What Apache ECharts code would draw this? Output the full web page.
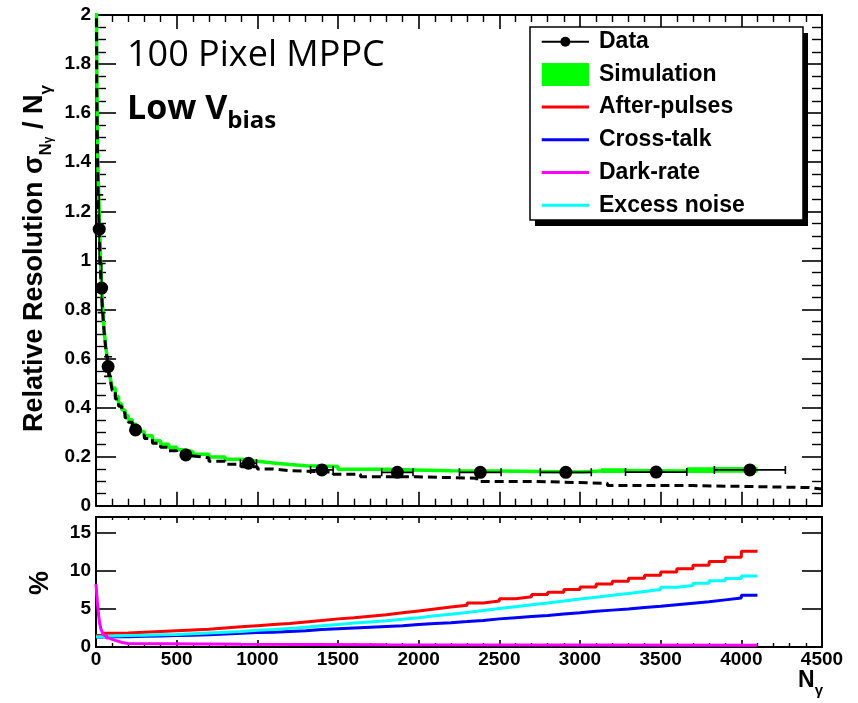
<!DOCTYPE html>
<html>
<head>
<meta charset="utf-8">
<script src="https://cdn.jsdelivr.net/npm/echarts@6/dist/echarts.min.js"></script>
<style>
  html, body { margin: 0; padding: 0; background: #fff; }
  #chart { width: 858px; height: 703px; }
</style>
</head>
<body>
<div id="chart"></div>
<script>
// ---- Measured points: photon count, relative resolution and their errors ----
const dataN      = [20, 35, 75, 245, 557, 945, 1400, 1868, 2382, 2912, 3472, 4053];
const dataRes    = [1.127, 0.887, 0.567, 0.309, 0.207, 0.173, 0.146, 0.136, 0.136, 0.136, 0.137, 0.146];
const dataErrN   = [1, 2, 4, 13, 30, 50, 70, 97, 129, 158, 190, 220];
const dataErrRes = [0.14, 0.1, 0.04, 0.015, 0.008, 0.006, 0.005, 0.005, 0.005, 0.005, 0.005, 0.005];

// ---- Simulation histogram (bin edges, bin contents, band half-width) ----
const simEdges = [0, 5, 10, 15, 20, 25, 30, 40, 50, 60, 70, 80, 90, 100, 120, 140, 160, 180, 200,
  225, 250, 275, 300, 350, 400, 450, 500, 550, 600, 700, 800, 900, 1000, 1100, 1200, 1300, 1500,
  1780, 1980, 2200, 2500, 2750, 3000, 3130, 3270, 3660, 3840, 4100];
const simRes = [2.5, 1.75, 1.45, 1.3, 1.2, 1.08, 0.96, 0.82, 0.72, 0.65, 0.6, 0.55, 0.515, 0.48,
  0.445, 0.415, 0.39, 0.368, 0.35, 0.332, 0.316, 0.302, 0.285, 0.265, 0.25, 0.238, 0.228, 0.22,
  0.21, 0.198, 0.189, 0.181, 0.174, 0.168, 0.163, 0.16, 0.149, 0.146, 0.142, 0.141, 0.139, 0.137,
  0.141, 0.143, 0.141, 0.145, 0.146];
const simErr = [0, 0, 0, 0, 0, 0, 0, 0, 0, 0, 0, 0, 0, 0, 0, 0, 0, 0, 0, 0, 0, 0, 0, 0, 0, 0, 0, 0,
  0, 0, 0, 0, 0, 0, 0, 0, 0, 0, 0, 0, 0, 0, 0, 0.01, 0, 0.012, 0.012];

// ---- Poisson-only expectation (dashed histogram) ----
const poisEdges = [0, 5, 10, 15, 20, 25, 30, 40, 50, 60, 70, 80, 90, 100, 120, 140, 160, 180, 200,
  225, 250, 275, 300, 350, 400, 450, 500, 550, 600, 700, 800, 900, 1000, 1100, 1200, 1470, 1640,
  1980, 2360, 2720, 3170, 3700, 4420, 4500];
const poisRes = [2.5, 1.7, 1.4, 1.22, 1.12, 1.02, 0.92, 0.8, 0.71, 0.645, 0.59, 0.545, 0.51, 0.47,
  0.435, 0.405, 0.38, 0.358, 0.34, 0.32, 0.302, 0.288, 0.274, 0.255, 0.238, 0.224, 0.212, 0.203,
  0.195, 0.181, 0.169, 0.159, 0.15, 0.143, 0.137, 0.128, 0.118, 0.112, 0.099, 0.091, 0.082, 0.074,
  0.068];

// ---- Noise contributions in % (lower panel) ----
const noiseEdges = [0, 50, 100, 200, 300, 400, 500, 600, 700, 800, 900, 1000, 1100, 1200, 1300,
  1400, 1500, 1600, 1700, 1800, 1900, 2000, 2100, 2200, 2300, 2400, 2500, 2600, 2700, 2800, 2900,
  3000, 3100, 3200, 3300, 3400, 3500, 3600, 3700, 3800, 3900, 4000, 4100];
const afterPulses = [1.5, 1.8, 1.85, 1.95, 2.05, 2.15, 2.25, 2.35, 2.5, 2.65, 2.8, 2.95, 3.1, 3.3,
  3.5, 3.7, 3.85, 4.05, 4.25, 4.5, 4.75, 5.0, 5.25, 5.5, 5.8, 6.05, 6.35, 6.6, 6.9, 7.2, 7.55, 7.9,
  8.3, 8.65, 9.05, 9.45, 9.85, 10.3, 10.75, 11.25, 11.8, 12.6];
const crossTalk = [1.3, 1.35, 1.35, 1.4, 1.45, 1.5, 1.55, 1.6, 1.7, 1.8, 1.9, 1.95, 2.05, 2.15, 2.3,
  2.4, 2.5, 2.6, 2.7, 2.8, 2.95, 3.1, 3.2, 3.35, 3.5, 3.7, 3.85, 4.0, 4.15, 4.35, 4.5, 4.7, 4.85,
  5.0, 5.2, 5.35, 5.55, 5.75, 5.95, 6.2, 6.45, 6.8];
const excessNoise = [1.35, 1.45, 1.5, 1.55, 1.6, 1.65, 1.75, 1.85, 1.95, 2.05, 2.2, 2.3, 2.45, 2.6,
  2.8, 2.95, 3.15, 3.3, 3.45, 3.65, 3.85, 4.1, 4.3, 4.55, 4.8, 5.05, 5.3, 5.55, 5.8, 6.05, 6.3,
  6.55, 6.8, 7.05, 7.3, 7.55, 7.85, 8.1, 8.4, 8.7, 9.0, 9.35];
const darkEdges = [0, 8, 15, 22, 30, 40, 50, 65, 80, 100, 130, 160, 200, 900, 1800, 4100];
const darkRate = [8.3, 6.0, 4.4, 3.2, 2.4, 1.9, 1.5, 1.2, 1.0, 0.8, 0.6, 0.45, 0.35, 0.28, 0.22];

// ---- Axis ranges and tick labels ----
const xMax = 4500, xStep = 500;
const resMax = 2, resStep = 0.2;
const pctMax = 17.1, pctStep = 5;

const seriesNames = ['Data', 'Simulation', 'After-pulses', 'Cross-talk', 'Dark-rate', 'Excess noise'];

// Turn bin edges + contents into points for a step ('end') line
function histPoints(edges, values) {
  const n = Math.min(values.length, edges.length - 1);
  const pts = [];
  for (let i = 0; i < n; i++) pts.push([edges[i], values[i]]);
  pts.push([edges[n], values[n - 1]]);
  return pts;
}

const BLACK = '#000';
const tickFont = { fontFamily: 'Liberation Sans', fontWeight: 'bold', fontSize: 19, color: BLACK };
const colors = {
  sim: '#00ff00', after: '#ff0000', cross: '#0000ff', dark: '#ff00ff', excess: '#00ffff'
};

function xAxisDef(grid, pos, showLabel, major, minor) {
  return {
    type: 'value', gridIndex: grid, position: pos, min: 0, max: xMax, interval: xStep,
    axisLine: { show: true, onZero: false, lineStyle: { color: BLACK, width: 2 } },
    axisTick: { show: true, inside: true, length: major, lineStyle: { color: BLACK, width: 1.6 } },
    minorTick: { show: true, splitNumber: 5, length: minor, lineStyle: { color: BLACK, width: 1.4 } },
    splitLine: { show: false }, minorSplitLine: { show: false },
    axisLabel: Object.assign({ show: showLabel, margin: 3, formatter: v => String(v) }, tickFont)
  };
}
function yAxisDef(grid, pos, showLabel, max, step, major, minor, minorSplit) {
  return {
    type: 'value', gridIndex: grid, position: pos, min: 0, max: max, interval: step,
    axisLine: { show: true, onZero: false, lineStyle: { color: BLACK, width: 2 } },
    axisTick: { show: true, inside: true, length: major, lineStyle: { color: BLACK, width: 1.6 } },
    minorTick: { show: minorSplit > 0, splitNumber: minorSplit || 1, length: minor,
      lineStyle: { color: BLACK, width: 1.4 } },
    splitLine: { show: false }, minorSplitLine: { show: false },
    axisLabel: Object.assign({ show: showLabel, margin: 5, showMaxLabel: max === resMax,
      formatter: v => String(+(+v).toFixed(3)) }, tickFont)
  };
}

// Error bars for the measured points
function renderErrors(params, api) {
  const x = api.value(0), y = api.value(1), ex = api.value(2), ey = api.value(3);
  const st = { stroke: BLACK, lineWidth: 1.6 };
  const cap = 4;
  const kids = [];
  const l = api.coord([x - ex, y]), r = api.coord([x + ex, y]);
  if (r[0] - l[0] > 14) {
    kids.push({ type: 'line', shape: { x1: l[0], y1: l[1], x2: r[0], y2: r[1] }, style: st });
    kids.push({ type: 'line', shape: { x1: l[0], y1: l[1] - cap, x2: l[0], y2: l[1] + cap }, style: st });
    kids.push({ type: 'line', shape: { x1: r[0], y1: r[1] - cap, x2: r[0], y2: r[1] + cap }, style: st });
  }
  const t = api.coord([x, y + ey]), b = api.coord([x, y - ey]);
  if (b[1] - t[1] > 14) {
    kids.push({ type: 'line', shape: { x1: t[0], y1: t[1], x2: b[0], y2: b[1] }, style: st });
    kids.push({ type: 'line', shape: { x1: t[0] - cap, y1: t[1], x2: t[0] + cap, y2: t[1] }, style: st });
    kids.push({ type: 'line', shape: { x1: b[0] - cap, y1: b[1], x2: b[0] + cap, y2: b[1] }, style: st });
  }
  return { type: 'group', children: kids };
}

// Simulation uncertainty band, one rectangle per bin
function renderBand(params, api) {
  const p0 = api.coord([api.value(0), api.value(3)]);
  const p1 = api.coord([api.value(1), api.value(2)]);
  return { type: 'rect', shape: { x: p0[0], y: p0[1], width: p1[0] - p0[0], height: p1[1] - p0[1] },
    style: { fill: colors.sim } };
}
const bandData = [];
simErr.forEach((e, i) => {
  if (e > 0) bandData.push([simEdges[i], simEdges[i + 1], simRes[i] - e, simRes[i] + e]);
});

// ---- Legend (drawn as graphics) ----
const legendBox = { x: 530, y: 27, w: 273, h: 193 };
const legendRow0 = 41.7, legendRowStep = 32.7, iconX0 = 541.7, iconX1 = 589, textX = 599;
const legendColors = [BLACK, colors.sim, colors.after, colors.cross, colors.dark, colors.excess];
const legendEls = [
  { type: 'rect', z: 100, shape: { x: legendBox.x + 5, y: legendBox.y + 6, width: legendBox.w, height: legendBox.h },
    style: { fill: BLACK } },
  { type: 'rect', z: 101, shape: { x: legendBox.x, y: legendBox.y, width: legendBox.w, height: legendBox.h },
    style: { fill: '#fff', stroke: BLACK, lineWidth: 1.5 } }
];
seriesNames.forEach((name, i) => {
  const cy = legendRow0 + legendRowStep * i;
  if (i === 1) {
    legendEls.push({ type: 'rect', z: 102, shape: { x: iconX0, y: cy - 11.5, width: iconX1 - iconX0, height: 23 },
      style: { fill: legendColors[i] } });
  } else {
    legendEls.push({ type: 'line', z: 102, shape: { x1: iconX0, y1: cy, x2: iconX1, y2: cy },
      style: { stroke: legendColors[i], lineWidth: i === 0 ? 2 : 3 } });
  }
  if (i === 0) {
    legendEls.push({ type: 'circle', z: 103, shape: { cx: (iconX0 + iconX1) / 2, cy: cy, r: 5 },
      style: { fill: BLACK } });
  }
  legendEls.push({ type: 'text', z: 103, x: textX, y: cy,
    style: { text: name, fill: BLACK, font: 'bold 23px "Liberation Sans"',
      align: 'left', verticalAlign: 'middle', textAlign: 'left', textVerticalAlign: 'middle' } });
});

// ---- Titles and annotations ----
const titleEls = [
  { type: 'text', z: 50, x: 127, y: 56,
    style: { text: '100 Pixel MPPC', fill: BLACK, font: '36px "Open Sans"',
      align: 'left', verticalAlign: 'middle', textAlign: 'left', textVerticalAlign: 'middle' } },
  { type: 'text', z: 50, x: 127, y: 109,
    style: { text: '{m|Low V}{s|bias}', fill: BLACK, align: 'left', verticalAlign: 'middle',
      textAlign: 'left', textVerticalAlign: 'middle',
      rich: {
        m: { fontFamily: 'Open Sans', fontWeight: 'bold', fontSize: 34, lineHeight: 48, color: BLACK },
        s: { fontFamily: 'Open Sans', fontWeight: 'bold', fontSize: 24, lineHeight: 24, verticalAlign: 'bottom', color: BLACK }
      } } },
  { type: 'text', z: 50, x: 35, y: 258.5, rotation: Math.PI / 2,
    style: { text: '{a|Relative Resolution }{a|σ}{b|N}{c|γ}{a| / N}{b|γ}', fill: BLACK,
      align: 'center', verticalAlign: 'middle', textAlign: 'center', textVerticalAlign: 'middle',
      rich: {
        a: { fontFamily: 'Liberation Sans', fontWeight: 'bold', fontSize: 27, lineHeight: 40, color: BLACK },
        b: { fontFamily: 'Liberation Sans', fontWeight: 'bold', fontSize: 17, lineHeight: 20, verticalAlign: 'bottom', color: BLACK },
        c: { fontFamily: 'Liberation Sans', fontWeight: 'bold', fontSize: 12, lineHeight: 12, verticalAlign: 'bottom', color: BLACK }
      } } },
  { type: 'text', z: 50, x: 41, y: 583, rotation: Math.PI / 2,
    style: { text: '%', fill: BLACK, font: 'bold 27px "Liberation Sans"',
      align: 'center', verticalAlign: 'middle', textAlign: 'center', textVerticalAlign: 'middle' } },
  { type: 'text', z: 50, x: 823, y: 681,
    style: { text: '{n|N}{g|γ}', fill: BLACK, align: 'right', verticalAlign: 'middle',
      textAlign: 'right', textVerticalAlign: 'middle',
      rich: {
        n: { fontFamily: 'Liberation Sans', fontWeight: 'bold', fontSize: 23, lineHeight: 34, color: BLACK },
        g: { fontFamily: 'Liberation Sans', fontWeight: 'bold', fontSize: 15, lineHeight: 16, verticalAlign: 'bottom', color: BLACK }
      } } }
];

const option = {
  backgroundColor: '#fff',
  animation: false,
  grid: [
    { left: 96, right: 36, top: 15, bottom: 197.3, outerBoundsMode: 'none', containLabel: false },
    { left: 96, right: 36, top: 517, bottom: 56, outerBoundsMode: 'none', containLabel: false }
  ],
  xAxis: [
    xAxisDef(0, 'bottom', false, 14, 7),
    xAxisDef(0, 'top', false, 14, 7),
    xAxisDef(1, 'bottom', true, 7, 4),
    xAxisDef(1, 'top', false, 6, 3)
  ],
  yAxis: [
    yAxisDef(0, 'left', true, resMax, resStep, 20, 10, 4),
    yAxisDef(0, 'right', false, resMax, resStep, 20, 10, 4),
    yAxisDef(1, 'left', true, pctMax, pctStep, 20, 10, 0),
    yAxisDef(1, 'right', false, pctMax, pctStep, 20, 10, 0)
  ],
  series: [
    { name: 'Simulation band', type: 'custom', xAxisIndex: 0, yAxisIndex: 0, z: 2,
      renderItem: renderBand, data: bandData, clip: true },
    { name: seriesNames[1], type: 'line', xAxisIndex: 0, yAxisIndex: 0, z: 3, step: 'end',
      symbol: 'none', clip: true, data: histPoints(simEdges, simRes),
      lineStyle: { color: colors.sim, width: 3.5 } },
    { name: 'Poisson', type: 'line', xAxisIndex: 0, yAxisIndex: 0, z: 4, step: 'end',
      symbol: 'none', clip: true, data: histPoints(poisEdges, poisRes),
      lineStyle: { color: BLACK, width: 3, type: [9, 5] } },
    { name: 'Data errors', type: 'custom', xAxisIndex: 0, yAxisIndex: 0, z: 5,
      renderItem: renderErrors, clip: true,
      data: dataN.map((n, i) => [n, dataRes[i], dataErrN[i], dataErrRes[i]]),
      encode: { x: 0, y: 1 } },
    { name: seriesNames[0], type: 'scatter', xAxisIndex: 0, yAxisIndex: 0, z: 6,
      symbol: 'circle', symbolSize: 13, itemStyle: { color: BLACK, opacity: 1, borderWidth: 0 },
      emphasis: { disabled: true },
      data: dataN.map((n, i) => [n, dataRes[i]]) },

    { name: seriesNames[2], type: 'line', xAxisIndex: 2, yAxisIndex: 2, z: 3, step: 'end',
      symbol: 'none', data: histPoints(noiseEdges, afterPulses),
      lineStyle: { color: colors.after, width: 3 } },
    { name: seriesNames[3], type: 'line', xAxisIndex: 2, yAxisIndex: 2, z: 4, step: 'end',
      symbol: 'none', data: histPoints(noiseEdges, crossTalk),
      lineStyle: { color: colors.cross, width: 3 } },
    { name: seriesNames[5], type: 'line', xAxisIndex: 2, yAxisIndex: 2, z: 5, step: 'end',
      symbol: 'none', data: histPoints(noiseEdges, excessNoise),
      lineStyle: { color: colors.excess, width: 3 } },
    { name: seriesNames[4], type: 'line', xAxisIndex: 2, yAxisIndex: 2, z: 6, step: 'end',
      symbol: 'none', data: histPoints(darkEdges, darkRate),
      lineStyle: { color: colors.dark, width: 3 } }
  ],
  graphic: { elements: titleEls.concat(legendEls) }
};

const chart = echarts.init(document.getElementById('chart'), null, { renderer: 'canvas' });
chart.setOption(option);
</script>
</body>
</html>
